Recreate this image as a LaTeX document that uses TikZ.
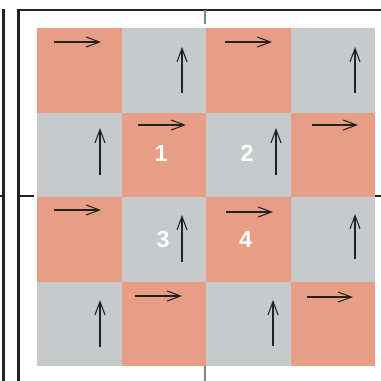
\documentclass[tikz,border=0pt]{standalone}
\usepackage{fontspec}
\setsansfont{Liberation Sans}
\usetikzlibrary{arrows.meta}
\definecolor{salmon}{HTML}{E89E84}
\definecolor{cellgray}{HTML}{C8C9CB}
\definecolor{framedark}{HTML}{222222}
\begin{document}
\begin{tikzpicture}[x=0.75pt,y=-0.75pt,
    >={Straight Barb[length=10pt,width=7.5pt]},
    flow/.style={->,line width=0.8pt,framedark},
    cellnum/.style={white,font=\sffamily\bfseries\fontsize{17.5}{17.5}\selectfont}]
    \useasboundingbox (0,0) rectangle (381,380);

    % 棋盘格
    \foreach \i in {0,...,3}
      \foreach \j in {0,...,3} {
        \pgfmathtruncatemacro\k{mod(\i+\j,2)}
        \ifnum\k=0 \def\cellcol{salmon}\else\def\cellcol{cellgray}\fi
        \fill[\cellcol] ({37+84.5*\i},{28+84.5*\j}) rectangle ++(84.5,84.5);
      }

    % 外框
    \draw[framedark, line width=2.2pt] (3.5,9.3) -- (3.5,381);
    \draw[framedark, line width=2.2pt] (18.7,381) -- (18.7,10) -- (382,10);

    % 十字标记
    \draw[framedark, line width=0.8pt] (0,196) -- (2.5,196);
    \draw[framedark, line width=0.8pt] (19,196) -- (34,196);
    \draw[framedark, line width=0.8pt] (375,196) -- (382,196);
    \draw[gray, line width=1.2pt] (205,10) -- (205,24);
    \draw[gray, line width=1.2pt] (205,366) -- (205,381);

    % 水平箭头
    \foreach \xa/\xb/\y in {54/101/42, 225/272/42, 138/186/125, 312/358/125,
                            54/101/210, 226/273/212, 135/182/296, 307/353/297}
      \draw[flow] (\xa,\y) -- (\xb,\y);

    % 竖直箭头
    \foreach \x/\ya/\yb in {182/93/47, 355/93/47, 100/175/128, 276/175/128,
                            182/262/215, 355/259/214, 100/347/300, 273/346/300}
      \draw[flow] (\x,\ya) -- (\x,\yb);

    % 编号
    \node[cellnum] (n1) at (161,153) {1};
    \node[cellnum] (n2) at (247,153) {2};
    \node[cellnum] (n3) at (163,239) {3};
    \node[cellnum] (n4) at (245.5,239) {4};
\end{tikzpicture}
\end{document}
